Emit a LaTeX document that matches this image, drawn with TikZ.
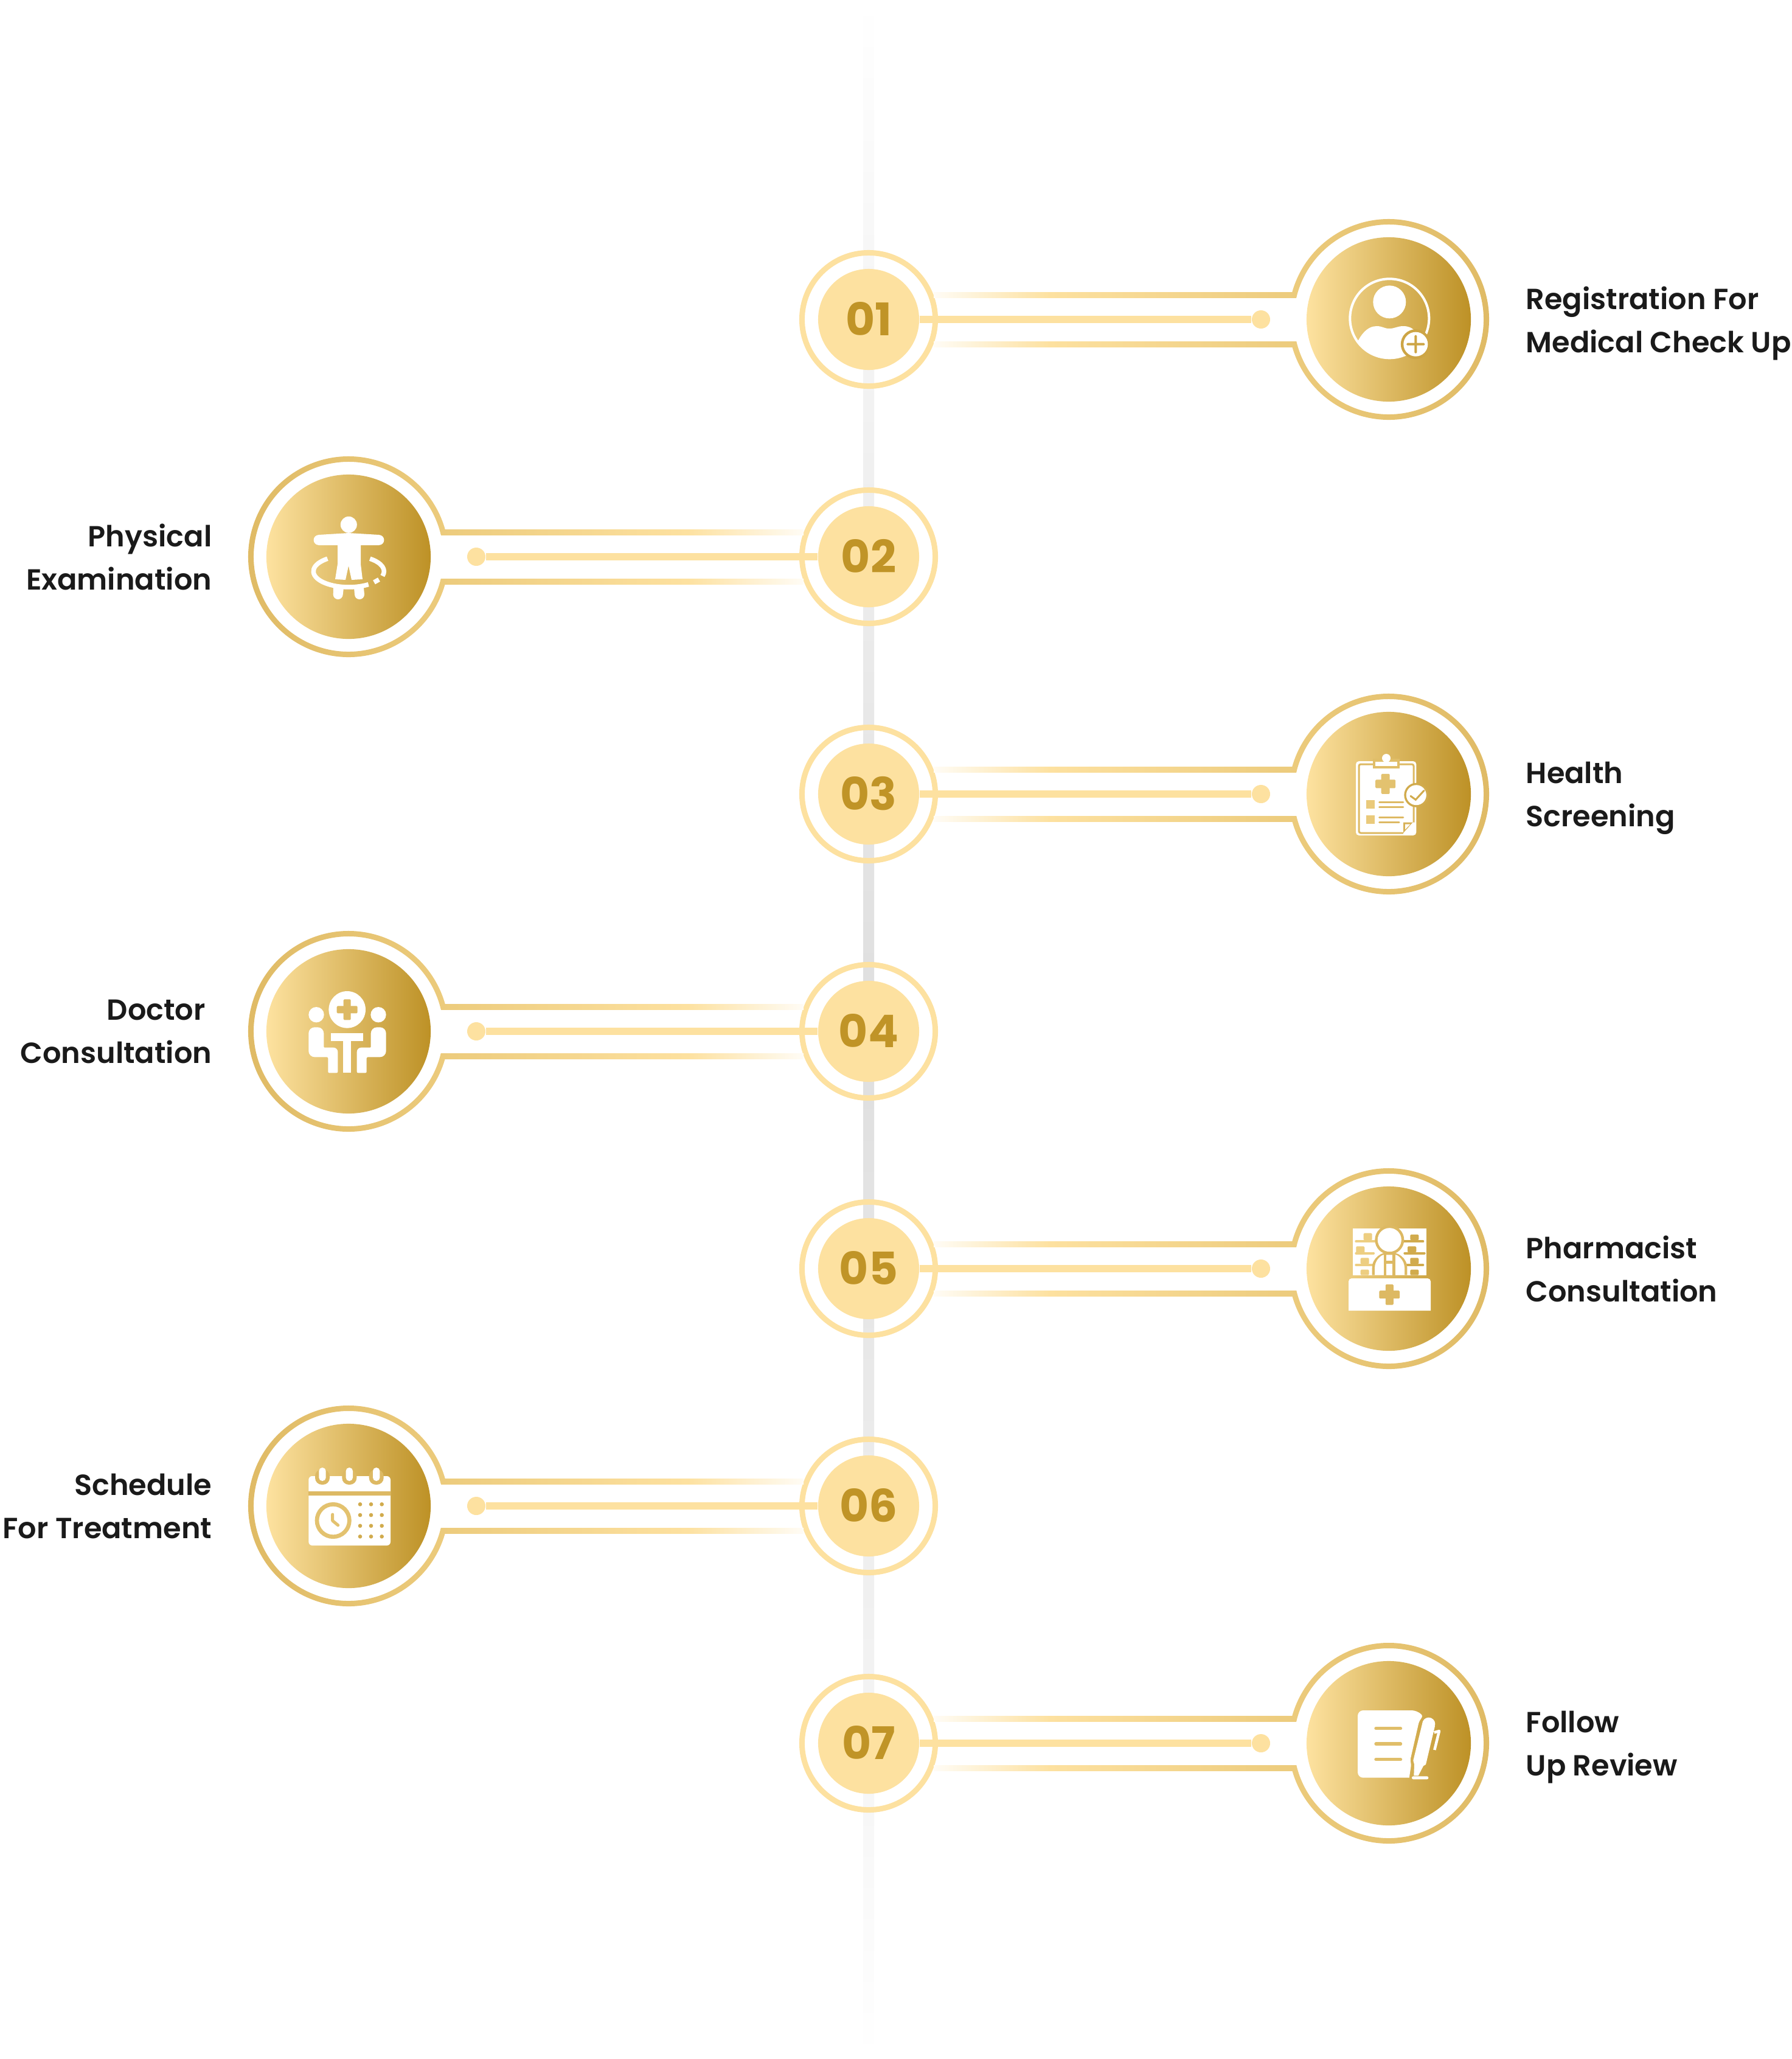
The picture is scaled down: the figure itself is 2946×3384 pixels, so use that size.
\documentclass[tikz,border=0pt]{standalone}
\usepackage{fontspec}
\setmainfont{Poppins}[BoldFont={Poppins SemiBold}]
\newfontfamily\numfont{Poppins}[UprightFont={* Bold}]
\usepackage{xcolor}
\usetikzlibrary{positioning, calc}
\definecolor{numgold}{HTML}{FDE1A0}
\definecolor{numtext}{HTML}{C09427}
\definecolor{discleft}{HTML}{FDE2A0}
\definecolor{discright}{HTML}{BD9126}
\definecolor{barend}{HTML}{ECCB7C}
\definecolor{ringend}{HTML}{DFBA64}
\definecolor{spine}{HTML}{DEDEDE}
\definecolor{inktext}{HTML}{1A1A1A}
\colorlet{barfade}{numgold!10!white}
\pgfdeclarehorizontalshading{barshader}{100bp}{color(0bp)=(barfade); color(25bp)=(barfade); color(41bp)=(numgold); color(75bp)=(barend); color(100bp)=(barend)}
\pgfdeclarehorizontalshading{barshadel}{100bp}{color(0bp)=(barend); color(25bp)=(barend); color(59bp)=(numgold); color(75bp)=(barfade); color(100bp)=(barfade)}
\tikzset{numdisc/.style={circle, fill=numgold, text=numtext, inner sep=0, minimum size=1.66cm, font=\numfont\fontsize{21}{21}\selectfont}}
\tikzset{numring/.style={circle, draw=numgold, line width=0.09cm, inner sep=0, minimum size=2.19cm}}
\tikzset{icondisc/.style={circle, left color=discleft, right color=discright, inner sep=0, minimum size=2.7cm}}
\tikzset{enddot/.style={circle, fill=numgold, inner sep=0, minimum size=0.3cm}}
\tikzset{stem/.style={numgold, line width=0.12cm}}
\tikzset{barr/.style={shading=barshader}}
\tikzset{barl/.style={shading=barshadel}}
\tikzset{ringr/.style={left color=barend, right color=ringend}}
\tikzset{ringl/.style={left color=ringend, right color=barend}}
\tikzset{steplabel/.style={text=inktext, inner sep=0, font=\bfseries\fontsize{13.6}{20.2}\selectfont, execute at begin node=\strut, execute at end node=\strut}}
\tikzset{cut/.style={color=discright!#1!discleft}}
\newcommand{\medcross}[5]{%
  \fill[cut=#5, rounded corners=0.015cm] (#1-#3/2,#2-#4/2) rectangle (#1+#3/2,#2+#4/2);
  \fill[cut=#5, rounded corners=0.015cm] (#1-#4/2,#2-#3/2) rectangle (#1+#4/2,#2+#3/2);
}

\begin{document}
\begin{tikzpicture}[x=0.01cm, y=-0.01cm]
  \useasboundingbox (0,0) rectangle (2946,3384);

  \coordinate (spinetop) at (1419,0);
  \coordinate (spinemid) at (1437,1695);
  \coordinate (spineend) at (1419,3384);
  \shade[top color=white, bottom color=spine] (spinetop) rectangle (spinemid);
  \shade[top color=spine, bottom color=white] (spinemid) rectangle (spineend);

  \foreach \n/\y/\s/\side in {01/525/1/r, 02/915/-1/l, 03/1305/1/r, 04/1695/-1/l, 05/2085/1/r, 06/2475/-1/l, 07/2865/1/r} {
    \pgfmathsetmacro\o{90+90*\s}
    \node[numring] (ring\n) at (1428,\y) {};
    \node[icondisc] (icon\n) at ($(ring\n)+(\s*855,0)$) {};
    \node[enddot] (dot\n) at ($(ring\n)+(\s*645,0)$) {};
    \foreach \e in {-1,1} {
      \coordinate (baron\n) at ($(ring\n)+(\s*107,\e*45)$);
      \coordinate (barto\n) at ($(ring\n)+(\s*703,\e*36)$);
      \shade[bar\side] (baron\n) rectangle (barto\n);
    }
    \shade[ring\side] ($(icon\n)+(\o+15.8:165)$) arc[start angle=\o+15.8, end angle=\o+344.2, radius=165]
      -- ($(icon\n)+(\o+346.7:156)$) arc[start angle=\o+346.7, end angle=\o+13.3, radius=156] -- cycle;
    \node[numdisc] (num\n) at (ring\n) {\raisebox{0.85pt}{\n}};
    \draw[stem] (num\n) -- (dot\n);
  }

  \foreach \n/\t in {01/{Registration For\\Medical Check Up}, 03/{Health\\Screening}, 05/{Pharmacist\\Consultation}, 07/{Follow\\Up Review}} {
    \node[steplabel, align=left, anchor=west] (label\n) at ($(icon\n)+(225,11)$) {\t};
  }
  \foreach \n/\t in {02/{Physical\\Examination}, 04/{Doctor\kern3pt\\Consultation}, 06/{Schedule\\For Treatment}} {
    \node[steplabel, align=right, anchor=east] (label\n) at ($(icon\n)+(-224,11)$) {\t};
  }

  \begin{scope}[shift={(icon01)}]
    \draw[white, line width=0.04cm] (1.3,-1.7) circle (65);
    \fill[white] (1.3,-28.7) circle (27);
    \begin{scope}
      \clip (1.3,-1.7) circle (66);
      \fill[white] (-60,60) .. controls (-50,25) and (-35,11) .. (-20,11) .. controls (-10,11) and (-8,15) .. (1,15)
        .. controls (10,15) and (14,11) .. (24,11) .. controls (40,11) and (50,20) .. (60,60) -- (60,80) -- (-60,80) -- cycle;
    \end{scope}
    \fill[cut=75] (44.3,40.7) circle (24.5);
    \fill[white] (44.3,40.7) circle (20);
    \medcross{44.3}{40.7}{30}{4}{75}
  \end{scope}

  \begin{scope}[shift={(icon02)}]
    \fill[white] (0.3,-52.7) circle (13.5);
    \fill[white] (-49,-36) -- (0,-39) -- (50,-36) -- (50,-19) -- (20,-19) -- (20,12) -- (23,37) -- (5,38) -- (0,15)
      -- (-5,38) -- (-22,37) -- (-18,12) -- (-18,-19) -- (-49,-19) -- cycle;
    \fill[white] (-49,-27.5) circle (8.4) (50,-27.5) circle (8.4);
    \fill[white] (-25,51) -- (-8,51) -- (-9.3,62) arc[start angle=0, end angle=180, radius=8] -- cycle;
    \fill[white] (9,51) -- (25,51) -- (26,62) arc[start angle=0, end angle=180, radius=8] -- cycle;
    \draw[white, line width=0.075cm] (-34.6,3.2) arc[start angle=233, end angle=56, x radius=58, y radius=26];
    \draw[white, line width=0.075cm] (55.8,31.6) arc[start angle=17, end angle=-53, x radius=58, y radius=26];
    \draw[white, line width=0.075cm] (50,37.5) -- (42,42);
  \end{scope}

  \begin{scope}[shift={(icon03)}]
    \fill[white, rounded corners=0.05cm] (-54,-54) rectangle (45.3,68);
    \draw[cut=50, line width=0.03cm, rounded corners=0.03cm] (-49,-49) rectangle (41,64);
    \fill[cut=45] (-25.7,-58) rectangle (17.7,-42.3);
    \fill[white] (-22.3,-53) rectangle (13.7,-45.7);
    \fill[white] (-4,-59) circle (7);
    \medcross{-5.3}{-16.7}{33}{14}{40}
    \fill[cut=30] (-37,10.3) rectangle (-23,24.3);
    \fill[cut=30] (-37,35.3) rectangle (-23,49.3);
    \draw[cut=50, line width=0.033cm, line cap=round] (-15.3,13.7) -- (23.7,13.7) (-15.3,21.3) -- (23.7,21.3) (-15.3,38.7) -- (23.7,38.7) (-15.3,46.3) -- (17,46.3);
    \fill[cut=60] (24,46.7) -- (39.7,46.7) -- (24,64.3) -- cycle;
    \fill[white] (27,49.7) -- (35.3,49.7) -- (27,58.3) -- cycle;
    \fill[white] (39.7,46.7) -- (43,46.7) -- (43,66) -- (24,66) -- (24,64.3) -- cycle;
    \fill[cut=68] (45.3,1.7) circle (20);
    \fill[white] (45.3,1.7) circle (16.5);
    \draw[cut=68, line width=0.03cm, line cap=round] (36,3.3) -- (44.3,9.3) -- (58,-5.7);
  \end{scope}

  \begin{scope}[shift={(icon04)}]
    \fill[white] (-2.3,-35.7) circle (30.3);
    \medcross{-2.3}{-35.7}{34}{12}{50}
    \fill[white] (-28.7,3.3) rectangle (24.3,16);
    \fill[white] (-8.7,16) rectangle (4,68.3);
    \foreach \m in {1,-1} {
      \begin{scope}[shift={(-2,0)}, xscale=\m]
        \fill[white] (-51,-27.3) circle (12.7);
        \fill[white, rounded corners=0.02cm] (-31.7,68.3) -- (-31.7,42.3) [rounded corners=0.1cm] -- (-63.7,42.3) -- (-63.7,-6.7) -- (-38.7,-6.7) [rounded corners=0.01cm] -- (-38.7,26.7) [rounded corners=0.07cm] -- (-15.7,26.7) [rounded corners=0.02cm] -- (-15.7,68.3) -- cycle;
      \end{scope}
    }
  \end{scope}

  \begin{scope}[shift={(icon05)}]
    \fill[white] (-58.7,-66) rectangle (61.7,10.7);
    \fill[white, rounded corners=0.05cm] (-66,69) [sharp corners] -- (-66,69) [rounded corners=0.05cm] -- (-66,16) -- (69,16) [sharp corners] -- (69,69) -- cycle;
    \medcross{1.3}{42.7}{33.7}{13}{50}
    \foreach \xa/\xb/\ya/\yb in {-41.3/-27.3/-58.3/-46.7, -53.7/-39.7/-36.7/-24, -46.3/-32.3/-17.7/-7.7, -46.3/-32.3/1.7/10.7} {
      \fill[cut=25, rounded corners=0.015cm] (\xa,\ya) rectangle (\xb,\yb);
    }
    \foreach \xa/\xb/\ya/\yb in {35.3/49.3/-56/-46.7, 31/45.3/-36.7/-26.7, 35.3/49.3/-17.7/-7.7, 35.3/49.3/1.7/10.7} {
      \fill[cut=68, rounded corners=0.015cm] (\xa,\ya) rectangle (\xb,\yb);
    }
    \draw[cut=25, line width=0.04cm, line cap=round] (-53.7,-44.7) -- (-23,-44.7) (-53.7,-25.3) -- (-25,-25.3) (-53.7,-6) -- (-26,-6);
    \draw[cut=68, line width=0.04cm, line cap=round] (25.3,-44.7) -- (56.3,-44.7) (26.3,-25.3) -- (58.7,-25.3) (30.3,-6) -- (56.3,-6);
    \fill[cut=50] (1.3,-47.3) circle (24);
    \fill[white] (1.3,-47.3) circle (19.5);
    \fill[cut=50] (-27.3,10.7) -- (-27.3,-1) .. controls (-27.3,-18) and (-12,-27.3) .. (1.3,-27.3) .. controls (15,-27.3) and (30.3,-18) .. (30.3,-1) -- (30.3,10.7) -- cycle;
    \fill[white] (-23,10.7) -- (-23,-1) .. controls (-23,-14) and (-12,-22.7) .. (-8,-22.7) -- (11,-22.7) .. controls (15,-22.7) and (26,-14) .. (26,-1) -- (26,10.7) -- cycle;
    \fill[cut=50] (-8,-22.7) rectangle (-4,10.7);
    \fill[cut=50] (6.3,-22.7) rectangle (11,10.7);
    \fill[cut=50] (-4,-13.3) rectangle (6.3,-8.3);
  \end{scope}

  \begin{scope}[shift={(icon06)}]
    \fill[white, rounded corners=0.06cm] (-65.7,-49) rectangle (69,65);
    \fill[cut=50] (-65.7,-24) rectangle (69,-17.3);
    \foreach \r in {-43,1.3,45.7} {
      \fill[cut=50, rounded corners=0.11cm] (\r-12,-60) rectangle (\r+12,-35);
      \fill[white, rounded corners=0.055cm] (\r-5.7,-63) rectangle (\r+5.7,-41);
    }
    \draw[cut=40, line width=0.067cm] (-25.3,24) circle (26.7);
    \draw[cut=40, line width=0.05cm, line cap=round, line join=round] (-26.3,14) -- (-26.3,24.3) -- (-17.3,31.7);
    \foreach \c in {19,37,54.7} {
      \foreach \r in {-2.7,15,32.7,50.3} {
        \fill[cut=68] (\c,\r) circle (3.3);
      }
    }
  \end{scope}

  \begin{scope}[shift={(icon07)}]
    \fill[white, rounded corners=0.09cm] (-51,56.7) -- (-51,-54) -- (47,-54) [rounded corners=0.03cm] -- (56,-45) -- (49.7,-35) -- (35.3,28) -- (37,35) [sharp corners] -- (33.7,56.7) [rounded corners=0.09cm] -- cycle;
    \foreach \r in {-24.3,1,26.7} {
      \draw[cut=45, line width=0.053cm, line cap=round] (-21,\r) -- (19.5,\r);
    }
    \fill[white] (65.7,-31.7) circle (10.6);
    \fill[white] (55.3,-33) -- (76,-28.3) -- (61,35) -- (57,37.3) -- (48.7,53.3) -- (41.3,53.3) -- (42,35) -- (40.3,28.3) -- cycle;
    \fill[white, rounded corners=0.024cm] (38,54.3) rectangle (65.3,59.3);
    \draw[white, line width=0.045cm, line join=round] (74.7,-17.7) -- (83,-20) -- (75.3,11);
  \end{scope}
\end{tikzpicture}
\end{document}
